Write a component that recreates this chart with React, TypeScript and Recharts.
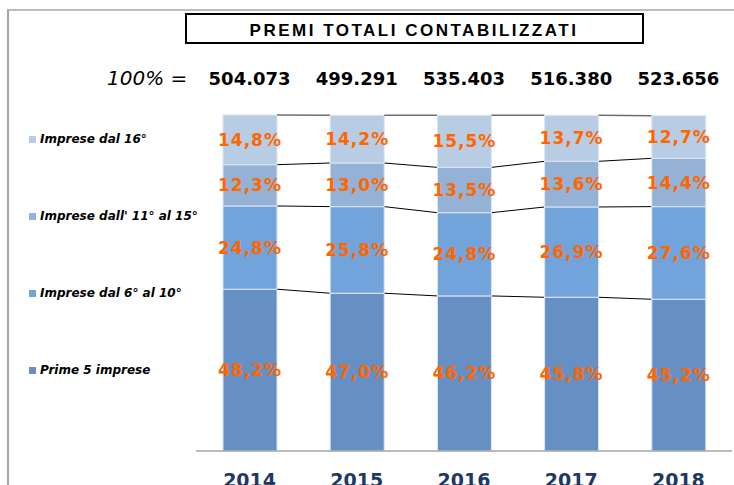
import React from 'react';
import { BarChart, Bar, XAxis, YAxis, Legend, LabelList } from 'recharts';

const years = ['2014', '2015', '2016', '2017', '2018'];
const totals = ['504.073', '499.291', '535.403', '516.380', '523.656'];
const prime5 = [48.2, 47.0, 46.2, 45.8, 45.2];
const dal6al10 = [24.8, 25.8, 24.8, 26.9, 27.6];
const dal11al15 = [12.3, 13.0, 13.5, 13.6, 14.4];
const dal16 = [14.8, 14.2, 15.5, 13.7, 12.7];

const seriesKeys = ['p5', 'p10', 'p15', 'p16'];
const seriesNames = ['Prime 5 imprese', 'Imprese dal 6° al 10°', "Imprese dall' 11° al 15°", 'Imprese dal 16°'];
const seriesColors = ['#6690C4', '#73A3DB', '#94B2D6', '#B8CCE4'];

const data = years.map((y, i) => ({
  year: y,
  total: totals[i],
  p5: prime5[i],
  p10: dal6al10[i],
  p15: dal11al15[i],
  p16: dal16[i],
}));

const W = 734;
const H = 485;
const M = { top: 75, right: 2, bottom: 0, left: 196 };
const BAND = (W - M.left - M.right) / years.length;
const VFONT = '"DejaVu Sans", Verdana, sans-serif';

function makeShape(si: number) {
  return (props: any) => {
    const { x, y, width, height, index, fill } = props;
    const key = seriesKeys[si];
    const cum = (i: number) =>
      seriesKeys.slice(0, si + 1).reduce((s, k) => s + (data[i] as any)[k], 0);
    const v = (data[index] as any)[key];
    const ppu = v ? height / v : 0;
    let line = null;
    if (index < data.length - 1) {
      const y2 = y + (cum(index) - cum(index + 1)) * ppu;
      line = (
        <line
          x1={x + width}
          y1={y}
          x2={x + BAND}
          y2={y2}
          stroke={si === 3 ? '#6F6F6F' : '#000000'}
          strokeWidth={si === 3 ? 1.5 : 1}
        />
      );
    }
    return (
      <g>
        <rect x={x} y={y} width={width} height={height} fill={fill} stroke="#DCE6F2" strokeWidth={1} />
        {line}
      </g>
    );
  };
}

const fmt = (v: any) => Number(v).toFixed(1).replace('.', ',') + '%';

const BottomTick = (props: any) => {
  const { x, y, payload } = props;
  return (
    <text x={x} y={y + 36} textAnchor="middle" fill="#1F3864" fontFamily={VFONT} fontWeight="bold" fontSize={19}>
      {payload.value}
    </text>
  );
};

const TopTick = (props: any) => {
  const { x, y, payload } = props;
  return (
    <text x={x} y={y - 30} textAnchor="middle" fill="#000" fontFamily={VFONT} fontWeight="bold" fontSize={18}>
      {payload.value}
    </text>
  );
};

const renderLegend = (props: any) => {
  const items = [...(props.payload || [])].sort(
    (a: any, b: any) => seriesNames.indexOf(b.value) - seriesNames.indexOf(a.value)
  );
  return (
    <div style={{ display: 'flex', flexDirection: 'column' }}>
      {items.map((it: any, i: number) => (
        <div key={i} style={{ height: 18, marginBottom: 59, display: 'flex', alignItems: 'center' }}>
          <span style={{ width: 7, height: 7, background: it.color, marginRight: 4, display: 'inline-block' }} />
          <span
            style={{
              fontFamily: VFONT,
              fontWeight: 'bold',
              fontStyle: 'italic',
              fontSize: 12,
              color: '#000',
              whiteSpace: 'nowrap',
            }}
          >
            {it.value}
          </span>
        </div>
      ))}
    </div>
  );
};

export default function App() {
  return (
    <div style={{ position: 'absolute', left: 0, top: 0, width: W, height: H, overflow: 'hidden', background: '#fff' }}>
      <BarChart width={W} height={H} data={data} margin={M}>
        <XAxis
          dataKey="year"
          height={34}
          tickLine={false}
          tickSize={0}
          tickMargin={0}
          axisLine={{ stroke: '#A6A6A6', strokeWidth: 1.5 }}
          tick={<BottomTick />}
          interval={0}
        />
        <XAxis
          xAxisId="top"
          dataKey="total"
          orientation="top"
          height={40}
          tickLine={false}
          tickSize={0}
          tickMargin={0}
          axisLine={false}
          tick={<TopTick />}
          interval={0}
        />
        <YAxis hide domain={[0, 'dataMax']} />
        <Legend
          layout="vertical"
          align="center"
          verticalAlign="middle"
          width={210}
          content={renderLegend}
          wrapperStyle={{ left: 29, top: 130, width: 210, height: 300 }}
        />
        {seriesKeys.map((k, si) => (
          <Bar
            key={k}
            dataKey={k}
            name={seriesNames[si]}
            stackId="a"
            fill={seriesColors[si]}
            barSize={54}
            isAnimationActive={false}
            shape={makeShape(si)}
          >
            <LabelList
              dataKey={k}
              position="center"
              formatter={fmt}
              fill="#FF6600"
              fontFamily={VFONT}
              fontWeight="bold"
              fontSize={17}
              letterSpacing={1}
            />
          </Bar>
        ))}
      </BarChart>
      <svg
        width={W}
        height={H}
        style={{ position: 'absolute', left: 0, top: 0, pointerEvents: 'none' }}
      >
        <line x1={7} y1={10} x2={W} y2={10} stroke="#A6A6A6" strokeWidth={1.5} />
        <line x1={8} y1={10} x2={8} y2={H} stroke="#A6A6A6" strokeWidth={2} />
        <rect x={186} y={14} width={457} height={29} fill="#fff" stroke="#000" strokeWidth={2} />
        <text
          x={414}
          y={36}
          textAnchor="middle"
          fontFamily='"Liberation Sans", Arial, sans-serif'
          fontWeight="bold"
          fontSize={17}
          letterSpacing={2.5}
          fill="#000"
        >
          PREMI TOTALI CONTABILIZZATI
        </text>
        <text x={107} y={85} fontFamily={VFONT} fontStyle="italic" fontSize={20} fill="#000">
          100% =
        </text>
      </svg>
    </div>
  );
}
